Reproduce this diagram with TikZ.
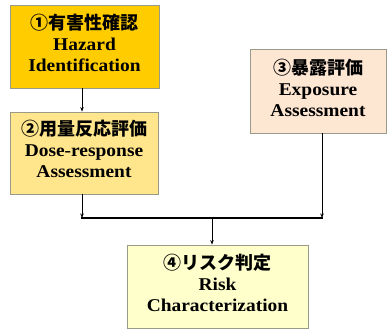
\documentclass[tikz,border=0pt]{standalone}
\usepackage{fontspec}
\setmainfont{Liberation Serif}[FakeStretch=1.08]
\newfontfamily\jp{Noto Sans CJK JP}
\usetikzlibrary{arrows.meta}
\definecolor{cone}{HTML}{FFCC00}
\definecolor{ctwo}{HTML}{FFE68C}
\definecolor{cthree}{HTML}{FDE6D2}
\definecolor{cfour}{HTML}{FFFFCC}
\definecolor{cborder}{HTML}{9A9A88}
\tikzset{
  stage/.style={draw=cborder, line width=0.8pt, rectangle, inner sep=0pt},
  lbl/.style={align=center, font=\fontsize{18}{21}\selectfont\bfseries},
  arr/.style={line width=0.8pt, -{Stealth[length=4.5pt,width=3.5pt]}},
  bus/.style={line width=1.8pt}
}
\begin{document}
\begin{tikzpicture}[x=1pt,y=-1pt]
\useasboundingbox (0,0) rectangle (387,331);
\node[stage, fill=cone, minimum width=149pt, minimum height=83pt] (b1) at (84.5,46.5) {};
\node[stage, fill=ctwo, minimum width=148pt, minimum height=82pt] (b2) at (84,153) {};
\node[stage, fill=cthree, minimum width=136pt, minimum height=84pt] (b3) at (318,91) {};
\node[stage, fill=cfour, minimum width=181pt, minimum height=83pt] (b4) at (217.5,286.5) {};
\node[lbl] (t1) at ([yshift=4pt]b1.center) {{\jp\bfseries ①有害性確認}\\Hazard\\Identification};
\node[lbl] (t2) at ([yshift=4pt]b2.center) {{\jp\bfseries ②用量反応評価}\\Dose-response\\Assessment};
\node[lbl] (t3) at ([yshift=3pt]b3.center) {{\jp\bfseries ③暴露評価}\\Exposure\\Assessment};
\node[lbl] (t4) at ([yshift=4pt]b4.center) {{\jp\bfseries ④リスク判定}\\Risk\\Characterization};
\coordinate (ax) at (82,0);
\coordinate (jl) at (82,218);
\coordinate (jr) at (322,218);
\coordinate (jm) at (212,218);
\draw[arr] (b1.south -| ax) -- (b2.north -| ax);
\draw[arr] (b2.south -| jl) -- (jl);
\draw[arr] (b3.south -| jr) -- (jr);
\draw[bus] ([xshift=-0.9pt]jl) -- ([xshift=0.9pt]jr);
\draw[arr] (jm) -- (b4.north -| jm);
\end{tikzpicture}
\end{document}
